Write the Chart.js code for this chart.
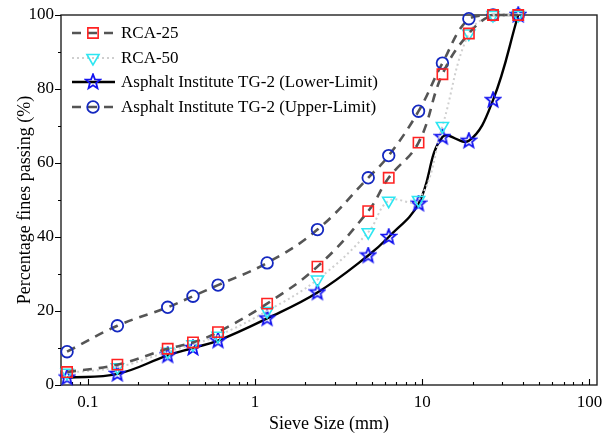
<!DOCTYPE html>
<html><head><meta charset="utf-8">
<script src="https://cdn.jsdelivr.net/npm/chart.js@4/dist/chart.umd.min.js"></script>
<style>html,body{margin:0;padding:0;background:#fff}#wrap{width:603px;height:435px}</style>
</head><body><div id="wrap"><canvas id="c" width="603" height="435"></canvas></div>
<script>
const sieveSizes = [0.075, 0.15, 0.3, 0.425, 0.6, 1.18, 2.36, 4.75, 6.3, 9.5, 13.2, 19, 26.5, 37.5];
const rca25 = [3.5, 5.5, 9.8, 11.5, 14.3, 22, 32, 47, 56, 65.5, 84, 95, 100, 100];
const rca50 = [3.3, 4.8, 9, 11, 13.3, 20, 28.5, 41.3, 49.8, 50, 70, 95, 100, 100];
const lowerLimit = [2, 3, 8, 10, 12, 18, 25, 35, 40, 49, 67, 66, 77, 100];
const upperLimit = [9, 16, 21, 24, 27, 33, 42, 56, 62, 74, 87, 99, 100, 100];
const xTickValues = [0.1, 1, 10, 100];
const seriesNames = ['RCA-25', 'RCA-50', 'Asphalt Institute TG-2 (Lower-Limit)', 'Asphalt Institute TG-2 (Upper-Limit)'];

const X_MIN = 0.069, X_MAX = 111;
const FONT = "'Liberation Serif', 'Times New Roman', serif";

function starImage(color) {
  const c = document.createElement('canvas');
  c.width = 18; c.height = 18;
  const g = c.getContext('2d');
  g.beginPath();
  for (let i = 0; i < 10; i++) {
    const r = i % 2 === 0 ? 7.6 : 3.3;
    const a = -Math.PI / 2 + i * Math.PI / 5;
    const px = 9 + r * Math.cos(a), py = 9 + r * Math.sin(a);
    if (i === 0) g.moveTo(px, py); else g.lineTo(px, py);
  }
  g.closePath();
  g.lineWidth = 1.8;
  g.strokeStyle = color;
  g.lineJoin = 'miter';
  g.stroke();
  return c;
}
const star = starImage('#1414f0');

function pts(ys) { return sieveSizes.map((x, i) => ({ x: x, y: ys[i] })); }

const datasets = [
  { label: seriesNames[0], data: pts(rca25), borderColor: '#555555', borderWidth: 2.6, borderDash: [9, 7],
    pointStyle: 'rect', pointRadius: 7.3, pointBorderColor: '#ff2222', pointBackgroundColor: 'rgba(0,0,0,0)', pointBorderWidth: 1.6 },
  { label: seriesNames[1], data: pts(rca50), borderColor: '#cfcfcf', borderWidth: 2, borderDash: [2, 3],
    pointStyle: 'triangle', pointRotation: 180, pointRadius: 7, pointBorderColor: '#2ee6f2', pointBackgroundColor: 'rgba(0,0,0,0)', pointBorderWidth: 1.6 },
  { label: seriesNames[2], data: pts(lowerLimit), borderColor: '#000000', borderWidth: 2.4, borderDash: [],
    pointStyle: star, pointRadius: 8, pointBorderColor: '#1414f0', pointBackgroundColor: 'rgba(0,0,0,0)', pointBorderWidth: 1.8 },
  { label: seriesNames[3], data: pts(upperLimit), borderColor: '#555555', borderWidth: 2.6, borderDash: [9, 7],
    pointStyle: 'circle', pointRadius: 5.8, pointBorderColor: '#1428c0', pointBackgroundColor: 'rgba(0,0,0,0)', pointBorderWidth: 1.8 }
];
datasets.forEach(d => { d.tension = 0.4; d.fill = false; d.clip = false; d.showLine = true; });

const framePlugin = {
  id: 'framePlugin',
  beforeDatasetsDraw(chart) {
    const ctx = chart.ctx, a = chart.chartArea, xs = chart.scales.x, ys = chart.scales.y;
    ctx.save();
    ctx.strokeStyle = '#222';
    ctx.lineWidth = 1.4;
    ctx.strokeRect(a.left, a.top, a.right - a.left, a.bottom - a.top);
    ctx.lineWidth = 1.1;
    ctx.strokeStyle = '#000';
    ctx.beginPath();
    for (let d = -2; d <= 2; d++) {
      for (let m = 1; m <= 9; m++) {
        const v = m * Math.pow(10, d);
        if (v < xs.min || v > xs.max) continue;
        const px = Math.round(xs.getPixelForValue(v)) + 0.5;
        if (px < a.left + 2 || px > a.right - 2) continue;
        const len = m === 1 ? 6 : 3;
        ctx.moveTo(px, a.bottom); ctx.lineTo(px, a.bottom - len);
      }
    }
    for (let v = 0; v <= 100; v += 10) {
      const py = Math.round(ys.getPixelForValue(v)) + 0.5;
      const len = v % 20 === 0 ? 6 : 3;
      ctx.moveTo(a.left, py); ctx.lineTo(a.left - len, py);
    }
    ctx.stroke();
    ctx.restore();
  },
  afterDraw(chart) {
    const ctx = chart.ctx;
    const rows = [33, 58, 82, 107];
    chart.data.datasets.forEach((ds, i) => {
      const y = rows[i];
      ctx.save();
      ctx.strokeStyle = ds.borderColor;
      ctx.lineWidth = ds.borderWidth;
      ctx.setLineDash(ds.borderDash || []);
      ctx.beginPath();
      ctx.moveTo(72, y); ctx.lineTo(115, y);
      ctx.stroke();
      ctx.setLineDash([]);
      ctx.strokeStyle = ds.pointBorderColor;
      ctx.fillStyle = 'rgba(0,0,0,0)';
      ctx.lineWidth = ds.pointBorderWidth;
      Chart.helpers.drawPoint(ctx, { pointStyle: ds.pointStyle, rotation: ds.pointRotation || 0, radius: ds.pointRadius, borderWidth: ds.pointBorderWidth }, 93, y);
      ctx.fillStyle = '#000';
      ctx.font = '17px ' + FONT;
      ctx.textBaseline = 'middle';
      ctx.textAlign = 'left';
      ctx.fillText(ds.label, 121, y + 1);
      ctx.restore();
    });
  }
};

function zeroPad(s) { s.paddingLeft = 0; s.paddingRight = 0; s.paddingTop = 0; s.paddingBottom = 0; }

new Chart(document.getElementById('c'), {
  type: 'line',
  data: { datasets: datasets },
  plugins: [framePlugin],
  options: {
    responsive: false,
    animation: false,
    events: [],
    layout: { autoPadding: false, padding: { top: 15, right: 6, left: 0, bottom: 0 } },
    plugins: { legend: { display: false }, tooltip: { enabled: false } },
    scales: {
      x: {
        type: 'logarithmic', min: X_MIN, max: X_MAX, bounds: 'data',
        grid: { display: false, drawTicks: false }, border: { display: false },
        afterBuildTicks: s => { s.ticks = xTickValues.map(v => ({ value: v })); s.min = X_MIN; s.max = X_MAX; },
        afterFit: s => { s.height = 50; zeroPad(s); },
        ticks: { color: '#000', font: { family: FONT, size: 17 }, padding: 7, maxRotation: 0, autoSkip: false,
                 callback: v => String(v) },
        title: { display: true, text: 'Sieve Size (mm)', color: '#000', font: { family: FONT, size: 18 }, padding: { top: 0, bottom: 0 } }
      },
      y: {
        min: 0, max: 100,
        grid: { display: false, drawTicks: false }, border: { display: false },
        afterFit: s => { s.width = 61; zeroPad(s); },
        ticks: { stepSize: 20, color: '#000', font: { family: FONT, size: 17 }, padding: 7 },
        title: { display: true, text: 'Percentage fines passing (%)', color: '#000', font: { family: FONT, size: 18 }, padding: { top: 14, bottom: 0 } }
      }
    }
  }
});
</script>
</body></html>
